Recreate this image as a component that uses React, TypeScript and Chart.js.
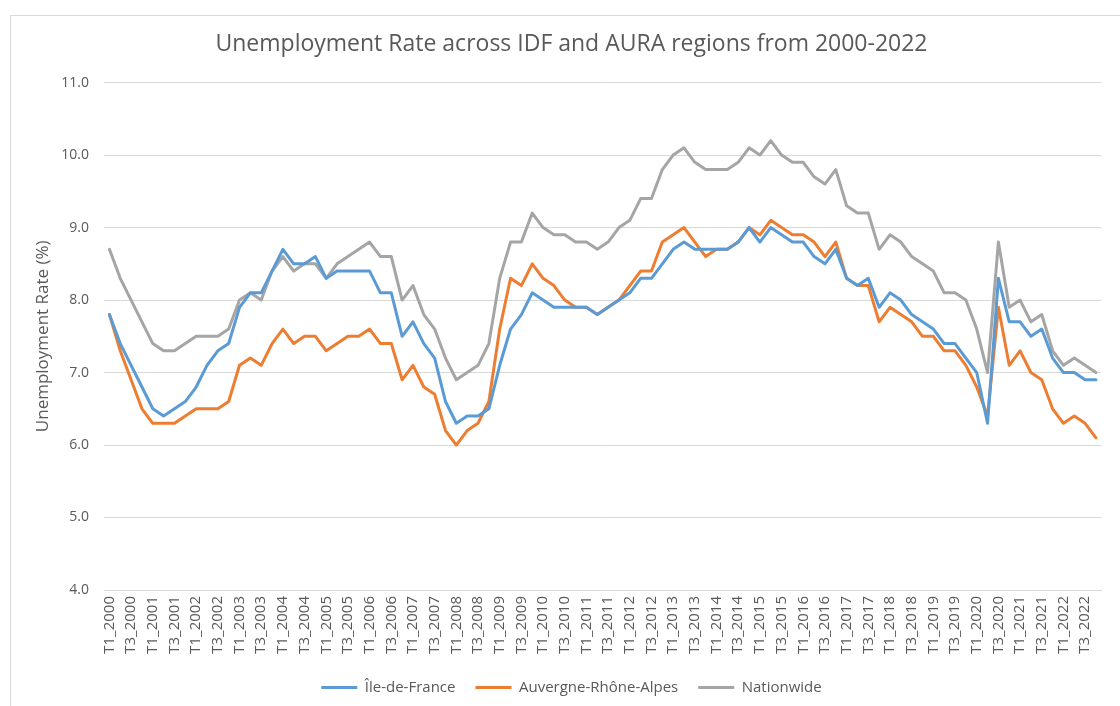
import React, { useEffect, useRef } from "react";
import { Chart, registerables } from "chart.js";

Chart.register(...registerables);

// ---- Data ----
const YEARS = [2000, 2001, 2002, 2003, 2004, 2005, 2006, 2007, 2008, 2009, 2010, 2011, 2012, 2013, 2014, 2015, 2016, 2017, 2018, 2019, 2020, 2021, 2022];
const QUARTERS = ["T1", "T2", "T3", "T4"];
const quarterLabels: string[] = [];
for (const y of YEARS) for (const q of QUARTERS) quarterLabels.push(`${q}_${y}`);

const ileDeFrance = [
  7.8, 7.4, 7.1, 6.8, 6.5, 6.4, 6.5, 6.6, 6.8, 7.1, 7.3, 7.4,
  7.9, 8.1, 8.1, 8.4, 8.7, 8.5, 8.5, 8.6, 8.3, 8.4, 8.4, 8.4,
  8.4, 8.1, 8.1, 7.5, 7.7, 7.4, 7.2, 6.6, 6.3, 6.4, 6.4, 6.5,
  7.1, 7.6, 7.8, 8.1, 8.0, 7.9, 7.9, 7.9, 7.9, 7.8, 7.9, 8.0,
  8.1, 8.3, 8.3, 8.5, 8.7, 8.8, 8.7, 8.7, 8.7, 8.7, 8.8, 9.0,
  8.8, 9.0, 8.9, 8.8, 8.8, 8.6, 8.5, 8.7, 8.3, 8.2, 8.3, 7.9,
  8.1, 8.0, 7.8, 7.7, 7.6, 7.4, 7.4, 7.2, 7.0, 6.3, 8.3, 7.7,
  7.7, 7.5, 7.6, 7.2, 7.0, 7.0, 6.9, 6.9,
];

const auvergneRhoneAlpes = [
  7.8, 7.3, 6.9, 6.5, 6.3, 6.3, 6.3, 6.4, 6.5, 6.5, 6.5, 6.6,
  7.1, 7.2, 7.1, 7.4, 7.6, 7.4, 7.5, 7.5, 7.3, 7.4, 7.5, 7.5,
  7.6, 7.4, 7.4, 6.9, 7.1, 6.8, 6.7, 6.2, 6.0, 6.2, 6.3, 6.6,
  7.6, 8.3, 8.2, 8.5, 8.3, 8.2, 8.0, 7.9, 7.9, 7.8, 7.9, 8.0,
  8.2, 8.4, 8.4, 8.8, 8.9, 9.0, 8.8, 8.6, 8.7, 8.7, 8.8, 9.0,
  8.9, 9.1, 9.0, 8.9, 8.9, 8.8, 8.6, 8.8, 8.3, 8.2, 8.2, 7.7,
  7.9, 7.8, 7.7, 7.5, 7.5, 7.3, 7.3, 7.1, 6.8, 6.4, 7.9, 7.1,
  7.3, 7.0, 6.9, 6.5, 6.3, 6.4, 6.3, 6.1,
];

const nationwide = [
  8.7, 8.3, 8.0, 7.7, 7.4, 7.3, 7.3, 7.4, 7.5, 7.5, 7.5, 7.6,
  8.0, 8.1, 8.0, 8.4, 8.6, 8.4, 8.5, 8.5, 8.3, 8.5, 8.6, 8.7,
  8.8, 8.6, 8.6, 8.0, 8.2, 7.8, 7.6, 7.2, 6.9, 7.0, 7.1, 7.4,
  8.3, 8.8, 8.8, 9.2, 9.0, 8.9, 8.9, 8.8, 8.8, 8.7, 8.8, 9.0,
  9.1, 9.4, 9.4, 9.8, 10.0, 10.1, 9.9, 9.8, 9.8, 9.8, 9.9, 10.1,
  10.0, 10.2, 10.0, 9.9, 9.9, 9.7, 9.6, 9.8, 9.3, 9.2, 9.2, 8.7,
  8.9, 8.8, 8.6, 8.5, 8.4, 8.1, 8.1, 8.0, 7.6, 7.0, 8.8, 7.9,
  8.0, 7.7, 7.8, 7.3, 7.1, 7.2, 7.1, 7.0,
];

const seriesNames = ["Île-de-France", "Auvergne-Rhône-Alpes", "Nationwide"];
const seriesColors = ["#5B9BD5", "#ED7D31", "#A5A5A5"];
const chartTitle = "Unemployment Rate across IDF and AURA regions from 2000-2022";
const yAxisTitle = "Unemployment Rate (%)";
const Y_MIN = 4;
const Y_MAX = 11;
const Y_STEP = 1;

const TEXT = "#595959";
const GRID = "#D9D9D9";
const FONT = "'Open Sans', sans-serif";

export default function App() {
  const canvasRef = useRef<HTMLCanvasElement | null>(null);

  useEffect(() => {
    if (!canvasRef.current) return;
    const values = [ileDeFrance, auvergneRhoneAlpes, nationwide];
    const chart = new Chart(canvasRef.current, {
      type: "line",
      data: {
        labels: quarterLabels,
        datasets: values.map((d, i) => ({
          label: seriesNames[i],
          data: d,
          borderColor: seriesColors[i],
          backgroundColor: seriesColors[i],
          borderWidth: 3,
          pointRadius: 0,
          pointHoverRadius: 0,
          tension: 0,
          borderJoinStyle: "round" as const,
          borderCapStyle: "round" as const,
          fill: false,
        })),
      },
      options: {
        responsive: false,
        animation: false,
        layout: { padding: { left: 30, right: 7, top: 0, bottom: 1 } },
        plugins: {
          title: {
            display: true,
            text: chartTitle,
            color: TEXT,
            font: { family: FONT, size: 23, weight: "normal" },
            padding: { top: 31, bottom: 24 },
          },
          legend: {
            position: "bottom",
            labels: {
              usePointStyle: true,
              pointStyle: "line",
              pointStyleWidth: 36,
              color: TEXT,
              font: { family: FONT, size: 15 },
              padding: 20,
            },
          },
          tooltip: { enabled: false },
        },
        scales: {
          x: {
            type: "category",
            offset: true,
            grid: { display: false, drawTicks: false },
            border: { display: true, color: GRID, width: 1 },
            ticks: {
              autoSkip: false,
              minRotation: 90,
              maxRotation: 90,
              padding: 6,
              color: TEXT,
              font: { family: FONT, size: 15 },
              callback: (_v: any, i: number) => (i % 2 === 0 ? quarterLabels[i] : ""),
            },
            afterFit: (s: any) => {
              s.height = 70;
            },
          },
          y: {
            min: Y_MIN,
            max: Y_MAX,
            ticks: {
              stepSize: Y_STEP,
              padding: 15,
              color: TEXT,
              font: { family: FONT, size: 14 },
              callback: (v: any) => Number(v).toFixed(1),
            },
            grid: { color: GRID, lineWidth: 1, drawTicks: false },
            border: { display: false },
            title: {
              display: true,
              text: yAxisTitle,
              color: TEXT,
              font: { family: FONT, size: 17 },
              padding: { top: 3, bottom: 0 },
            },
            afterFit: (s: any) => {
              s.width = 74;
            },
          },
        },
      },
    });
    return () => chart.destroy();
  }, []);

  return (
    <div style={{ position: "fixed", left: 0, top: 0, width: 1120, height: 706, background: "#fff", overflow: "hidden" }}>
      <div
        style={{
          position: "absolute",
          left: 10,
          top: 15,
          width: 1200,
          height: 800,
          borderLeft: "1px solid #D9D9D9",
          borderTop: "1px solid #D9D9D9",
        }}
      />
      <canvas ref={canvasRef} width={1120} height={706} style={{ position: "absolute", left: 0, top: 0 }} />
    </div>
  );
}
